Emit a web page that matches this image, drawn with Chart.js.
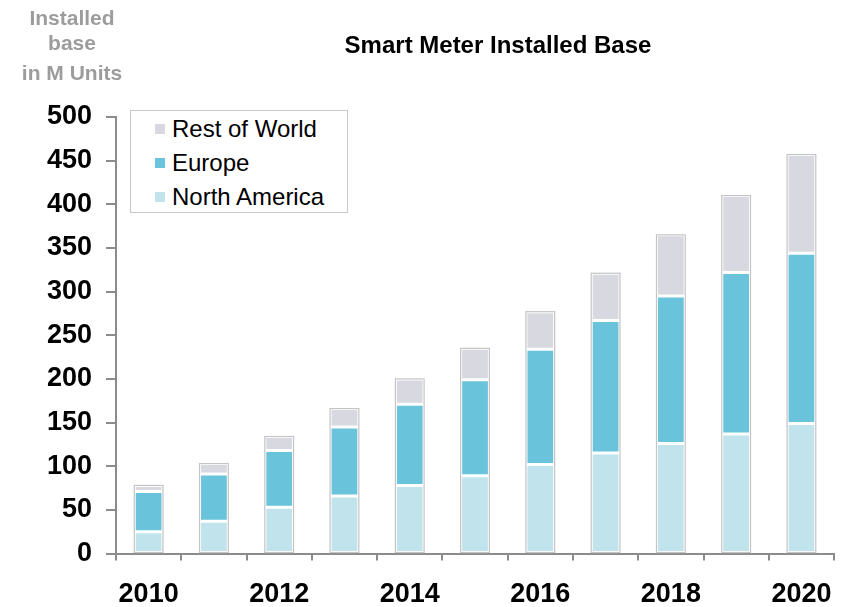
<!DOCTYPE html>
<html>
<head>
<meta charset="utf-8">
<title>Smart Meter Installed Base</title>
<script src="https://cdn.jsdelivr.net/npm/chart.js@4/dist/chart.umd.min.js"></script>
<style>
  html, body { margin: 0; padding: 0; background: #fff; }
  body { font-family: "Liberation Sans", Arial, sans-serif; }
  #wrap { position: relative; width: 850px; height: 607px; overflow: hidden; }
  #chart { position: absolute; left: 0; top: 0; }
  .cap { position: absolute; font-weight: bold; color: #9c9c9c; font-size: 21px; line-height: 24px; width: 144px; left: 0; text-align: center; white-space: nowrap; }
  #title { position: absolute; left: 298px; width: 400px; top: 31px; text-align: center; font-weight: bold; font-size: 24px; line-height: 28px; color: #000; white-space: nowrap; }
  #legend { position: absolute; left: 130px; top: 110px; width: 216px; height: 101px; border: 1px solid #c8c8c8; background: #fff; }
  #legend .row { position: absolute; left: 0; height: 30px; line-height: 30px; font-size: 24px; color: #000; white-space: nowrap; }
  #legend .sw { position: absolute; left: 24px; top: 10px; width: 10px; height: 10px; }
  #legend .txt { position: absolute; left: 41px; top: 0; }
</style>
</head>
<body>
<div id="wrap">
  <canvas id="chart" width="850" height="607"></canvas>
  <div class="cap" style="top:6px">Installed</div>
  <div class="cap" style="top:31px">base</div>
  <div class="cap" style="top:61px">in M Units</div>
  <div id="title">Smart Meter Installed Base</div>
  <div id="legend"></div>
</div>
<script>
// ============================
// Data (M units)
// ============================
const years = ["2010", "2011", "2012", "2013", "2014", "2015", "2016", "2017", "2018", "2019", "2020"];
const northAmerica = [25, 37, 53, 66, 78, 89, 102, 115, 126, 137, 149];
const europe = [46, 54, 65, 79, 93, 110, 132, 152, 169, 185, 195];
const restOfWorld = [7, 12, 16, 21, 29, 36, 43, 54, 70, 88, 113];
const yTicks = [0, 50, 100, 150, 200, 250, 300, 350, 400, 450, 500];

const FONT = '"Liberation Sans", Arial, sans-serif';
const AXIS = "#8c8c8c";

const series = [
    { label: "North America", data: northAmerica, color: "#c1e3eb" },
    { label: "Europe", data: europe, color: "#69c3db" },
    { label: "Rest of World", data: restOfWorld, color: "#d8d8e0" }
];

// grey outline around each whole stack
const stackOutline = {
    id: "stackOutline",
    afterDatasetsDraw(chart) {
        const ctx = chart.ctx;
        const metas = chart.getSortedVisibleDatasetMetas();
        if (!metas.length) return;
        const first = metas[0], last = metas[metas.length - 1];
        ctx.save();
        ctx.strokeStyle = "#c4c4c4";
        ctx.lineWidth = 1.2;
        first.data.forEach((bar, i) => {
            const top = last.data[i];
            const w = bar.width;
            ctx.strokeRect(bar.x - w / 2, top.y, w, bar.base - top.y);
        });
        ctx.restore();
    }
};

const chart = new Chart(document.getElementById("chart"), {
    type: "bar",
    data: {
        labels: years,
        datasets: series.map(s => ({
            label: s.label,
            data: s.data,
            backgroundColor: s.color,
            borderColor: "#ffffff",
            borderWidth: 1.5,
            borderSkipped: false,
            barPercentage: 0.44,
            categoryPercentage: 1
        }))
    },
    options: {
        responsive: false,
        animation: false,
        layout: { padding: { left: 0, right: 12, top: 117, bottom: 0 } },
        plugins: { legend: { display: false }, title: { display: false }, tooltip: { enabled: false } },
        scales: {
            x: {
                stacked: true,
                afterFit: s => { s.height = 53.5; },
                border: { display: true, color: AXIS, width: 2 },
                grid: { display: true, offset: true, drawOnChartArea: false, drawTicks: true, tickLength: 7, color: AXIS, lineWidth: 2 },
                ticks: {
                    autoSkip: false, maxRotation: 0, padding: 18, color: "#000",
                    font: { family: FONT, size: 27, weight: "bold" },
                    callback: (v, i) => (i % 2 === 0 ? years[i] : "")
                }
            },
            y: {
                stacked: true,
                min: 0, max: 500,
                afterFit: s => { s.width = 116; },
                afterBuildTicks: s => { s.ticks = yTicks.map(v => ({ value: v })); },
                border: { display: true, color: AXIS, width: 2 },
                grid: { display: true, drawOnChartArea: false, drawTicks: true, tickLength: 10, color: AXIS, lineWidth: 2 },
                ticks: { padding: 14, color: "#000", font: { family: FONT, size: 27, weight: "bold" } }
            }
        }
    },
    plugins: [stackOutline]
});

// legend box, top series first
const legendEl = document.getElementById("legend");
series.slice().reverse().forEach((s, i) => {
    const row = document.createElement("div");
    row.className = "row";
    row.style.top = (3 + i * 34) + "px";
    row.innerHTML = `<span class="sw" style="background:${s.color}"></span><span class="txt">${s.label}</span>`;
    legendEl.appendChild(row);
});
</script>
</body>
</html>
